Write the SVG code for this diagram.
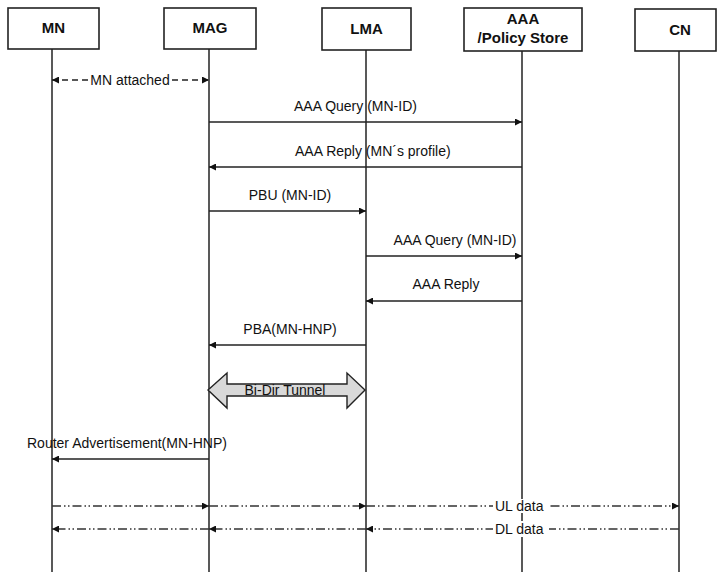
<svg xmlns="http://www.w3.org/2000/svg" width="717" height="572" viewBox="0 0 717 572">
<style>
.box{fill:#fff;stroke:#222;stroke-width:1.6}
.life{stroke:#222;stroke-width:1.5;fill:none}
.title{font-family:"Liberation Sans",Arial,sans-serif;font-weight:bold;font-size:15px;fill:#111;text-anchor:middle}
.lbl{font-family:"Liberation Sans",Arial,sans-serif;font-size:14px;fill:#111}
.msg{stroke:#222;stroke-width:1.5;fill:none}
.dash{stroke:#222;stroke-width:1.3;fill:none;stroke-dasharray:6 4}
.dd{stroke:#333;stroke-width:1.3;fill:none;stroke-dasharray:9 3 1.5 2.5 1.5 3}
.bg{fill:#fff}
</style>
<defs>
<marker id="ah" viewBox="0 0 10 10" refX="10" refY="5" markerWidth="9" markerHeight="7" markerUnits="userSpaceOnUse" orient="auto-start-reverse">
<path d="M0,0 L10,5 L0,10 z" fill="#111"/>
</marker>
</defs>
<g id="MN">
<rect class="box" x="8" y="8" width="91" height="41"/>
<text class="title" x="53.5" y="33">MN</text>
<line class="life" x1="52" y1="49" x2="52" y2="572"/>
</g>
<g id="MAG">
<rect class="box" x="164" y="8" width="92" height="41"/>
<text class="title" x="210" y="33">MAG</text>
<line class="life" x1="209" y1="49" x2="209" y2="572"/>
</g>
<g id="LMA">
<rect class="box" x="322" y="8" width="89" height="42"/>
<text class="title" x="366.5" y="34">LMA</text>
<line class="life" x1="366" y1="50" x2="366" y2="572"/>
</g>
<g id="AAA">
<rect class="box" x="464" y="8" width="118" height="43"/>
<text class="title" x="523" y="24">AAA</text>
<text class="title" x="523" y="43">/Policy Store</text>
<line class="life" x1="522" y1="51" x2="522" y2="572"/>
</g>
<g id="CN">
<rect class="box" x="635" y="9" width="81" height="42"/>
<text class="title" x="680" y="35">CN</text>
<line class="life" x1="679" y1="51" x2="679" y2="572"/>
</g>
<g id="connectors">
<line class="dash" x1="52" y1="80" x2="209" y2="80" marker-start="url(#ah)" marker-end="url(#ah)"/>
<rect class="bg" x="88" y="72" width="84" height="15"/>
<text class="lbl" x="130" y="85" text-anchor="middle">MN attached</text>

<line class="msg" x1="209" y1="122" x2="522" y2="122" marker-end="url(#ah)"/>
<text class="lbl" x="294" y="111">AAA Query (MN-ID)</text>

<line class="msg" x1="522" y1="167" x2="209" y2="167" marker-end="url(#ah)"/>
<text class="lbl" x="295" y="156">AAA Reply (MN´s profile)</text>

<line class="msg" x1="209" y1="211" x2="366" y2="211" marker-end="url(#ah)"/>
<text class="lbl" x="290" y="200" text-anchor="middle">PBU (MN-ID)</text>

<line class="msg" x1="366" y1="256" x2="522" y2="256" marker-end="url(#ah)"/>
<text class="lbl" x="455" y="245" text-anchor="middle">AAA Query (MN-ID)</text>

<line class="msg" x1="522" y1="301" x2="366" y2="301" marker-end="url(#ah)"/>
<text class="lbl" x="446" y="289" text-anchor="middle">AAA Reply</text>

<line class="msg" x1="366" y1="345" x2="209" y2="345" marker-end="url(#ah)"/>
<text class="lbl" x="290" y="334" text-anchor="middle">PBA(MN-HNP)</text>

<polygon points="208,390 227,373 227,384 347,384 347,373 365,390 347,408 347,396 227,396 227,408" fill="#d9d9d9" stroke="#222" stroke-width="1.4"/>
<text class="lbl" x="285" y="394.5" text-anchor="middle" font-size="12">Bi-Dir Tunnel</text>

<line class="msg" x1="209" y1="459" x2="52" y2="459" marker-end="url(#ah)"/>
<text class="lbl" x="27" y="448">Router Advertisement(MN-HNP)</text>

<line class="dd" x1="52" y1="506" x2="209" y2="506" marker-end="url(#ah)"/>
<line class="dd" x1="209" y1="506" x2="366" y2="506" marker-end="url(#ah)"/>
<line class="dd" x1="366" y1="506" x2="679" y2="506" marker-end="url(#ah)"/>
<rect class="bg" x="493" y="499" width="56" height="14"/>
<text class="lbl" x="495" y="511">UL data</text>

<line class="dd" x1="679" y1="529" x2="366" y2="529" marker-end="url(#ah)"/>
<line class="dd" x1="366" y1="529" x2="209" y2="529" marker-end="url(#ah)"/>
<line class="dd" x1="209" y1="529" x2="52" y2="529" marker-end="url(#ah)"/>
<rect class="bg" x="493" y="521" width="56" height="16"/>
<text class="lbl" x="495" y="534">DL data</text>
</g>
</svg>
